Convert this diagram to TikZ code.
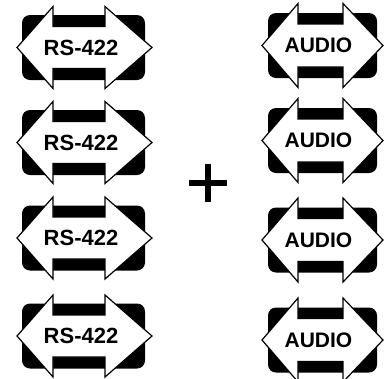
\documentclass[tikz,border=0pt]{standalone}
\usepackage{fontspec}
\setmainfont{Liberation Sans}

\tikzset{
  rsport/.pic={
    \fill [rounded corners=8pt] (-61.5,-32.5) rectangle (61.5,32.5);
    \draw [fill=white,line width=1.2pt,line join=miter] (-66.5,0)--(-30.5,-41)--(-30.5,-21)--(21.5,-21)--(21.5,-41)--(68.5,0)--(21.5,41)--(21.5,21)--(-30.5,21)--(-30.5,41)--cycle;
    \node [font=\fontsize{22}{22}\selectfont\bfseries] (-label) at (-2.5,0) {RS-422};
  },
  audioport/.pic={
    \fill [rounded corners=8pt] (-54.5,-32.5) rectangle (54.5,32.5);
    \draw [fill=white,line width=1.2pt,line join=miter] (-60.5,0)--(-24.5,-42)--(-24.5,-21.5)--(20.5,-21.5)--(20.5,-42)--(60.5,0)--(20.5,42)--(20.5,21.5)--(-24.5,21.5)--(-24.5,42)--cycle;
    \node [font=\fontsize{21}{21}\selectfont\bfseries] (-label) at (-4,0) {AUDIO};
  }
}

\begin{document}
\begin{tikzpicture}[x=1pt,y=-1pt]
    \useasboundingbox (0,0) rectangle (385,378);

    % left column
    \pic (rs1) at (83.5,47.5) {rsport};
    \pic (rs2) at (83.5,142.5) {rsport};
    \pic (rs3) at (83.5,238) {rsport};
    \pic (rs4) at (83.5,336) {rsport};

    % right column
    \pic (au1) at (322.5,45.5) {audioport};
    \pic (au2) at (322.5,140.5) {audioport};
    \pic (au3) at (322.5,240) {audioport};
    \pic (au4) at (322.5,340) {audioport};

    % plus sign
    \coordinate (plus) at (208,183);
    \draw [line width=6pt] ([xshift=-19pt]plus) -- ([xshift=19pt]plus);
    \draw [line width=6pt] ([yshift=-19pt]plus) -- ([yshift=19pt]plus);
\end{tikzpicture}
\end{document}
